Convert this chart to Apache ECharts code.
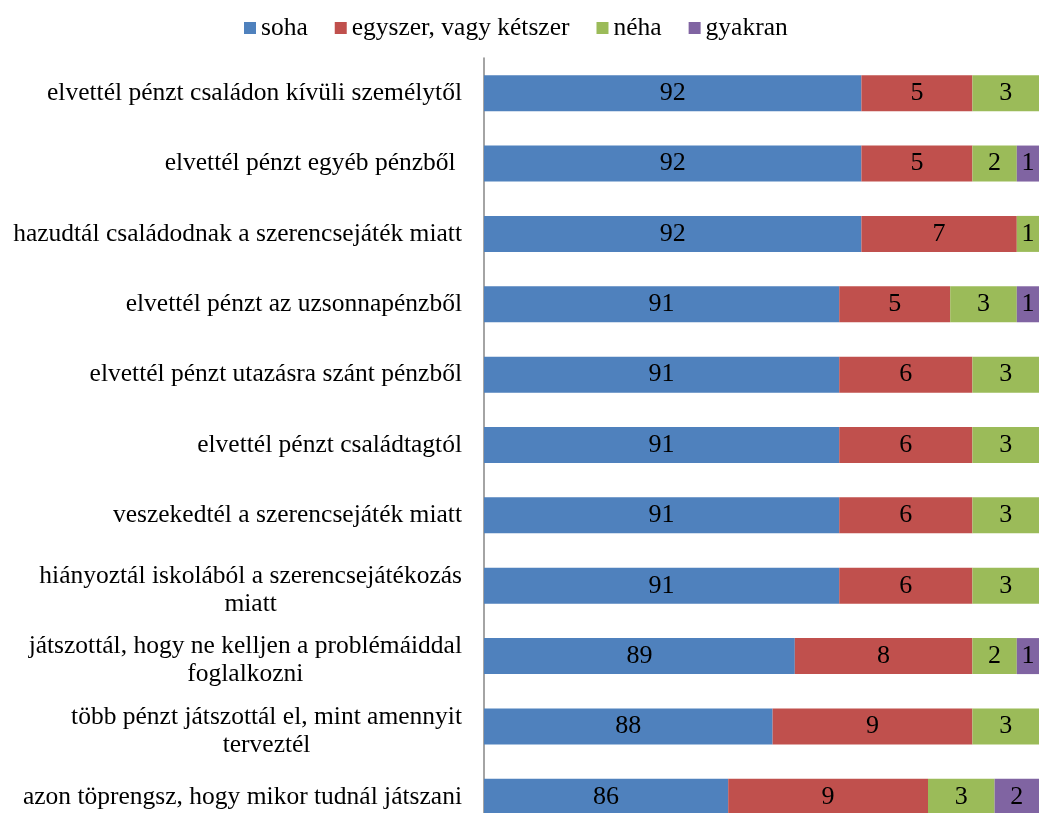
<!DOCTYPE html>
<html>
<head>
<meta charset="utf-8">
<script src="https://cdn.jsdelivr.net/npm/echarts@6/dist/echarts.min.js"></script>
<style>
  html, body { margin: 0; padding: 0; background: #fff; overflow: hidden; }
  #main { width: 1039px; height: 832px; }
</style>
</head>
<body>
<div id="main"></div>
<script>
var categories = [
    'elvettél pénzt családon kívüli személytől',
    'elvettél pénzt egyéb pénzből ',
    'hazudtál családodnak a szerencsejáték miatt',
    'elvettél pénzt az uzsonnapénzből',
    'elvettél pénzt utazásra szánt pénzből',
    'elvettél pénzt családtagtól',
    'veszekedtél a szerencsejáték miatt',
    'hiányoztál iskolából a szerencsejátékozás\nmiatt',
    'játszottál, hogy ne kelljen a problémáiddal\nfoglalkozni',
    'több pénzt játszottál el, mint amennyit\nterveztél',
    'azon töprengsz, hogy mikor tudnál játszani'
];
var soha =     [92, 92, 92, 91, 91, 91, 91, 91, 89, 88, 86];
var egyszer =  [5, 5, 7, 5, 6, 6, 6, 6, 8, 9, 9];
var neha =     [3, 2, 1, 3, 3, 3, 3, 3, 2, 3, 3];
var gyakran =  [0, 1, 0, 1, 0, 0, 0, 0, 1, 0, 2];

var seriesNames = ['soha', 'egyszer, vagy kétszer', 'néha', 'gyakran'];
var seriesData = [soha, egyszer, neha, gyakran];
var colors = ['#4F81BD', '#C0504D', '#9BBB59', '#8064A2'];

var fontFamily = '"Liberation Serif", "Times New Roman", serif';

var dom = document.getElementById('main');
var myChart = echarts.init(dom);
var option = null;

// két soros feliratok kicsit lejjebb
var yData = categories.map(function (c) {
    if (c.indexOf('\n') >= 0) {
        return { value: c, textStyle: { padding: [9, 0, 0, 0] } };
    }
    return c;
});

var series = seriesData.map(function (d, i) {
    return {
        name: seriesNames[i],
        type: 'bar',
        stack: 'total',
        barWidth: 36,
        data: d,
        itemStyle: { color: colors[i] },
        label: {
            show: true,
            position: 'inside',
            color: '#000',
            fontSize: 26,
            fontFamily: fontFamily,
            formatter: function (p) { return p.value ? String(p.value) : ''; }
        }
    };
});

option = {
    backgroundColor: '#fff',
    animation: false,
    color: colors,
    legend: {
        data: seriesNames,
        left: 244,
        top: 15,
        padding: 0,
        itemWidth: 12,
        itemHeight: 12,
        itemGap: 27,
        icon: 'rect',
        textStyle: {
            color: '#000',
            fontSize: 25.5,
            fontFamily: fontFamily
        }
    },
    grid: {
        left: 484,
        top: 58,
        width: 558,
        height: 774
    },
    xAxis: {
        type: 'value',
        min: 75,
        max: 100,
        show: false
    },
    yAxis: {
        type: 'category',
        data: yData,
        inverse: true,
        axisLine: { show: true, lineStyle: { color: '#868686', width: 1.5 } },
        axisTick: { show: false },
        splitLine: { show: false },
        axisLabel: {
            margin: 22,
            color: '#000',
            fontSize: 25.5,
            fontFamily: fontFamily,
            lineHeight: 28,
            formatter: function (v) {
                return v.split('\n').map(function (s) { return '{c|' + s + '}'; }).join('\n');
            },
            rich: {
                c: {
                    align: 'center',
                    color: '#000',
                    fontSize: 25.5,
                    fontFamily: fontFamily,
                    lineHeight: 28
                }
            }
        }
    },
    series: series
};

if (option && typeof option === "object") {
    myChart.setOption(option, true);
}
</script>
</body>
</html>
